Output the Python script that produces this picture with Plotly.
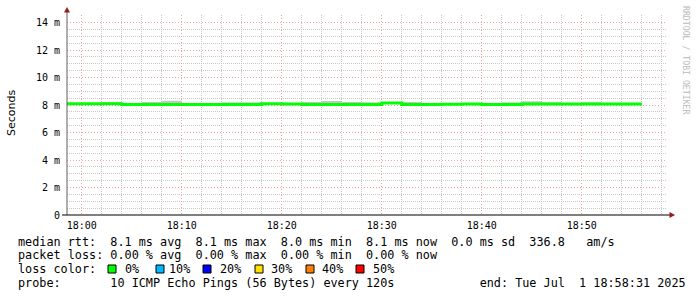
import plotly.graph_objects as go
import pandas as pd

# ---------------- data ----------------
bin_end = list(pd.date_range("2025-07-01 18:00:00", "2025-07-01 18:56:00", freq="2min"))
median_ms = [8.09, 8.09, 8.09, 8.04, 8.04, 8.04, 8.04, 8.04, 8.04, 8.04,
             8.10, 8.07, 8.04, 8.04, 8.04, 8.04, 8.15, 8.04, 8.04, 8.06,
             8.08, 8.04, 8.04, 8.07, 8.08, 8.08, 8.08, 8.08, 8.08]
smoke_hi_ms = [8.09, 8.09, 8.22, 8.10, 8.22, 8.30, 8.04, 8.04, 8.20, 8.20,
               8.10, 8.07, 8.22, 8.29, 8.22, 8.20, 8.15, 8.21, 8.04, 8.06,
               8.08, 8.04, 8.20, 8.28, 8.20, 8.08, 8.20, 8.08, 8.08]
smoke_lo_ms = [8.04, 8.04, 8.04, 7.99, 7.99, 7.99, 7.99, 7.99, 7.99, 7.97,
               8.05, 8.02, 7.99, 7.99, 7.99, 7.99, 8.10, 7.99, 7.99, 8.01,
               8.03, 7.99, 7.99, 8.02, 8.03, 8.03, 8.03, 8.03, 8.03]
y_tickvals = [0, 2, 4, 6, 8, 10, 12, 14]
y_ticktext = ["0", "2 m", "4 m", "6 m", "8 m", "10 m", "12 m", "14 m"]
range_start = "2025-07-01 17:58:31"
range_end = "2025-07-01 18:58:31"
loss_labels = ["0%", "10%", "20%", "30%", "40%", "50%"]
loss_colors = ["#00ff00", "#00b8ff", "#0000ff", "#ffe000", "#ff8000", "#ff0000"]
legend_lines = [
    "median rtt:  8.1 ms avg  8.1 ms max  8.0 ms min  8.1 ms now  0.0 ms sd  336.8   am/s",
    "packet loss: 0.00 % avg  0.00 % max  0.00 % min  0.00 % now",
    "loss color:",
    "probe:       10 ICMP Echo Pings (56 Bytes) every 120s            end: Tue Jul  1 18:58:31 2025",
]

# ---------------- layout constants ----------------
W, H = 697, 297
PL, PR, PT, PB = 67, 667, 15, 215
YMAX = (PB - PT) / 13.75
MONO = "DejaVu Sans Mono"


def px(x):
    return (x - PL) / (PR - PL)


def py(y):
    return (PB - y) / (PB - PT)


def nb(s):
    return s.replace(" ", "\u00a0")


# step series: each value spans the 2 minutes ending at its timestamp
starts = [t - pd.Timedelta(minutes=2) for t in bin_end]
xs = starts + [bin_end[-1]]

# minor grid positions that do not coincide with major ones
x_minor = [t for t in pd.date_range("2025-07-01 17:58:00", "2025-07-01 18:58:00", freq="2min")
           if t.minute % 10 != 0]
y_minor = [k * 0.5 for k in range(0, 30) if k % 4 != 0]

fig = go.Figure()
fig.add_trace(go.Scatter(x=xs, y=smoke_lo_ms + [smoke_lo_ms[-1]], mode="lines",
                         line=dict(width=0, shape="hv"), hoverinfo="skip", showlegend=False))
fig.add_trace(go.Scatter(x=xs, y=smoke_hi_ms + [smoke_hi_ms[-1]], mode="lines",
                         line=dict(width=0, shape="hv"), fill="tonexty", fillcolor="#c4c4c4",
                         hoverinfo="skip", showlegend=False))
fig.add_trace(go.Scatter(x=xs, y=median_ms + [median_ms[-1]], mode="lines",
                         line=dict(width=3, color="#00ff00", shape="hv"), showlegend=False))

major_grid = "#f2a2a2"
minor_grid = "#c8c8c8"

fig.update_layout(
    width=W, height=H, autosize=False,
    margin=dict(l=PL, r=W - PR, t=PT, b=H - PB, pad=0),
    paper_bgcolor="white", plot_bgcolor="white",
    showlegend=False,
    xaxis=dict(
        type="date", range=[range_start, range_end],
        tick0="2025-07-01 18:00:00", dtick=600000, tickformat="%H:%M",
        showgrid=True, gridcolor=major_grid, griddash="1px,2px", gridwidth=1,
        minor=dict(tickmode="array", tickvals=x_minor, showgrid=True,
                   gridcolor=minor_grid, griddash="1px,1px", gridwidth=1),
        showline=False, zeroline=False, ticks="", ticklabelstandoff=3,
        tickfont=dict(family=MONO, size=10, color="#000"),
        fixedrange=True,
    ),
    yaxis=dict(
        range=[0, YMAX], tickvals=y_tickvals, ticktext=y_ticktext,
        showgrid=True, gridcolor=major_grid, griddash="1px,2px", gridwidth=1,
        minor=dict(tickmode="array", tickvals=y_minor, showgrid=True, gridcolor=minor_grid,
                   griddash="1px,1px", gridwidth=1),
        showline=False, zeroline=False, ticks="", ticklabelstandoff=6,
        tickfont=dict(family=MONO, size=10, color="#000"),
        fixedrange=True,
    ),
)

shapes = []
# y axis line + arrow
shapes.append(dict(type="line", xref="paper", yref="paper", x0=0, x1=0, y0=0, y1=py(11),
                   line=dict(color="#606060", width=1)))
shapes.append(dict(type="path", xref="paper", yref="paper",
                   path=f"M {px(64)} {py(12.5)} L {px(70)} {py(12.5)} L {px(67)} {py(7)} Z",
                   fillcolor="#9a1a1a", line=dict(width=0)))
# x axis line + arrow
shapes.append(dict(type="line", xref="paper", yref="paper", x0=px(62), x1=px(670), y0=0, y1=0,
                   line=dict(color="#000000", width=1)))
shapes.append(dict(type="path", xref="paper", yref="paper",
                   path=f"M {px(669.5)} {py(212)} L {px(669.5)} {py(218)} L {px(675)} {py(215)} Z",
                   fillcolor="#9a1a1a", line=dict(width=0)))

# loss color boxes
box_x = [108, 156, 203, 255, 306, 356]
label_x = [123, 167, 218, 269, 320, 371.5]
for bx, c in zip(box_x, loss_colors):
    shapes.append(dict(type="rect", xref="paper", yref="paper",
                       x0=px(bx), x1=px(bx + 8), y0=py(273), y1=py(265),
                       fillcolor=c, line=dict(color="#000", width=1)))
fig.update_layout(shapes=shapes)

annotations = []
line_y = [241.6, 255.3, 269.0, 282.7]
for txt, ly in zip(legend_lines, line_y):
    annotations.append(dict(text=nb(txt), xref="paper", yref="paper", x=px(16), y=py(ly),
                            xanchor="left", yanchor="middle", showarrow=False,
                            font=dict(family=MONO, size=11.8, color="#000")))
for lx, lab in zip(label_x, loss_labels):
    annotations.append(dict(text=lab, xref="paper", yref="paper", x=px(lx), y=py(269.0),
                            xanchor="left", yanchor="middle", showarrow=False,
                            font=dict(family=MONO, size=11.8, color="#000")))
# y axis title
annotations.append(dict(text="Seconds", xref="paper", yref="paper", x=px(11), y=py(113),
                        xanchor="center", yanchor="middle", showarrow=False, textangle=-90,
                        font=dict(family="DejaVu Sans", size=11, color="#000")))
# watermark
annotations.append(dict(text=nb("RRDTOOL / TOBI OETIKER"), xref="paper", yref="paper",
                        x=px(686), y=py(60), xanchor="center", yanchor="middle",
                        showarrow=False, textangle=90,
                        font=dict(family=MONO, size=8.2, color="#bbbbbb")))
fig.update_layout(annotations=annotations)

fig.write_html("out.html")
